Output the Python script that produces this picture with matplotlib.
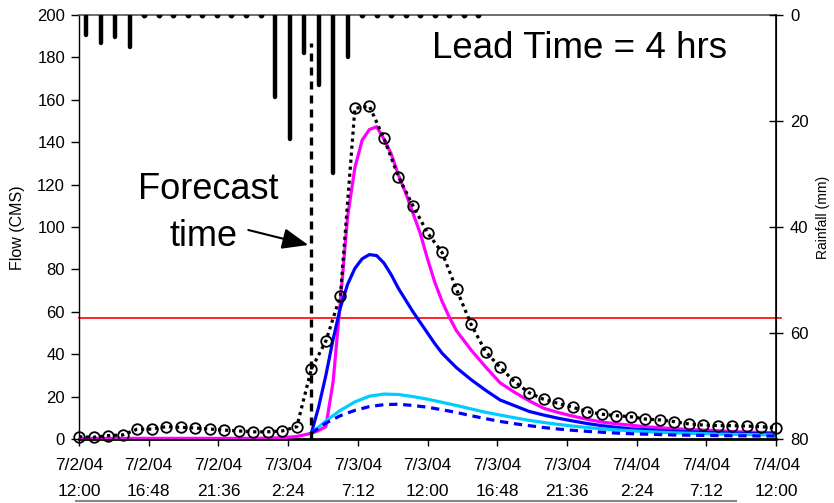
import matplotlib
matplotlib.use('Agg')
import matplotlib.pyplot as plt
from matplotlib.lines import Line2D

plt.rcParams['font.family'] = ['Liberation Sans', 'DejaVu Sans']

# ---------------- data ----------------
hours = list(range(49))  # hours after 7/2/04 12:00
observed = [1.1, 0.8, 1.6, 1.9, 4.6, 4.7, 5.8, 5.5, 5.2, 4.7, 4.2, 3.8, 3.4, 3.4, 3.8, 5.8,
            33.0, 46.2, 67.6, 156.0, 157.0, 141.8, 123.7, 110.0, 97.3, 88.0, 70.6, 54.1,
            41.2, 33.8, 27.0, 21.8, 18.7, 16.8, 15.0, 12.9, 11.7, 11.0, 10.5, 9.4, 9.0,
            8.2, 7.1, 6.6, 6.3, 6.3, 6.1, 5.8, 5.3]

# simulated (magenta): hourly to 16 h, half-hourly 16-26 h, hourly afterwards
sim_hours = (list(range(0, 16)) + [16 + 0.5 * k for k in range(21)] + list(range(27, 49)))
simulated = [0.3, 0.3, 0.3, 0.3, 0.3, 0.3, 0.3, 0.3, 0.3, 0.3, 0.3, 0.3, 0.3, 0.4, 0.6, 1.2,
             2.7, 4.0, 5.8, 27.0, 65.0, 105.0, 128.0, 141.0, 146.0, 147.3, 141.5,
             134.5, 124.5, 116.0, 106.5, 97.0, 85.0, 74.0, 65.0, 57.5, 51.0,
             42.0, 34.0, 26.5, 22.0, 18.0, 14.5, 12.5, 10.8, 9.3, 8.0, 7.2, 6.5, 5.8, 5.3,
             4.9, 4.5, 4.2, 3.9, 3.5, 3.3, 3.1, 3.0]

# forecasts issued at 16 h
fc_hours_fine = [16 + 0.5 * k for k in range(21)] + list(range(27, 49))
fc_blue = [2.7, 15.0, 30.0, 47.0, 62.0, 73.0, 80.5, 85.0, 87.0, 86.5, 83.0, 77.5, 71.0,
           65.5, 60.0, 55.0, 50.0, 45.0, 40.5, 37.0, 33.6,
           28.0, 23.0, 18.4, 15.7, 13.0, 11.3, 9.8, 8.5, 7.3, 6.3, 5.5, 4.8, 4.4, 4.0,
           3.7, 3.4, 3.2, 3.0, 2.8, 2.6, 2.5, 2.4]
fc_hours = list(range(16, 49))
fc_cyan = [2.7, 8.5, 13.5, 17.5, 20.2, 21.2, 21.0, 20.0, 18.8, 17.3, 15.8, 14.2, 12.6,
           11.3, 10.0, 8.8, 7.8, 6.9, 6.1, 5.4, 4.8, 4.3, 3.9, 3.5, 3.2, 2.9, 2.7,
           2.5, 2.3, 2.2, 2.1, 2.0, 1.9]
fc_blue_dash = [2.7, 7.5, 11.0, 13.5, 15.3, 16.2, 16.4, 15.8, 15.0, 13.8, 12.5, 11.0, 9.6,
                8.3, 7.2, 6.3, 5.4, 4.7, 4.1, 3.6, 3.2, 2.8, 2.5, 2.3, 2.1, 1.9, 1.8,
                1.7, 1.6, 1.5, 1.5, 1.4, 1.4]

rain_hours = [k + 0.5 for k in range(28)]
rain = [3.8, 5.2, 4.2, 6.0, 0, 0, 0, 0, 0, 0, 0, 0, 0,
        15.5, 23.4, 7.2, 13.2, 29.8, 7.9, 0, 0, 0, 0, 0, 0, 0, 0, 0]

tick_hours = [0, 4.8, 9.6, 14.4, 19.2, 24.0, 28.8, 33.6, 38.4, 43.2, 48.0]
tick_labels = ['7/2/04\n12:00', '7/2/04\n16:48', '7/2/04\n21:36', '7/3/04\n2:24',
               '7/3/04\n7:12', '7/3/04\n12:00', '7/3/04\n16:48', '7/3/04\n21:36',
               '7/4/04\n2:24', '7/4/04\n7:12', '7/4/04\n12:00']
flow_ticks = list(range(0, 201, 20))
rain_ticks = [0, 20, 40, 60, 80]

flood_level = 57
forecast_hour = 16
forecast_line_top = 187

# ---------------- figure ----------------
W, H = 834, 503
fig = plt.figure(figsize=(W / 100, H / 100), dpi=100)
L, R, T, B = 79, 776, 15, 439
ax = fig.add_axes([L / W, 1 - B / H, (R - L) / W, (B - T) / H])
ax2 = ax.twinx()

ax.set_xlim(0, 48)
ax.set_ylim(0, 200)

ax.plot(sim_hours, simulated, color='#FF00FF', lw=2.3, zorder=3)
ax.plot(fc_hours_fine, fc_blue, color='#0000FF', lw=2.3, zorder=3)
ax.plot(fc_hours, fc_cyan, color='#00CCFF', lw=2.3, zorder=3)
ax.plot(fc_hours, fc_blue_dash, color='#0000FF', lw=2.3, ls=(0, (2.6, 1.8)), zorder=3)
ax.plot(hours, observed, color='black', lw=2.3, ls=(0, (1, 1.2)), marker='o', ms=7.6,
        mfc='none', mec='black', mew=1.3, zorder=4, clip_on=False)

ax.axhline(flood_level, xmin=0, xmax=1.007, color='#FF0000', lw=1.2, clip_on=False, zorder=2)
ax.plot([forecast_hour, forecast_hour], [0, forecast_line_top], color='black', lw=2.4,
        ls=(0, (2.4, 1.8)), zorder=5)

ax.set_xticks(tick_hours)
ax.set_xticklabels(tick_labels, fontsize=12.5, linespacing=1.85)
ax.set_yticks(flow_ticks)
ax.tick_params(axis='x', direction='out', length=5, width=1, pad=9)
ax.tick_params(axis='y', direction='out', length=6, width=1, labelsize=12, pad=4)

ax.spines['left'].set_linewidth(1.0)
ax.spines['bottom'].set_linewidth(2.0)
ax.spines['top'].set_color('#555555')
ax.spines['top'].set_linewidth(1.2)

# rainfall (inverted secondary axis)
ax2.set_ylim(80, 0)
nz_x = [x for x, r in zip(rain_hours, rain) if r > 0]
nz_r = [r for r in rain if r > 0]
z_x = [x for x, r in zip(rain_hours, rain) if r == 0]
ax2.vlines(nz_x, 0, nz_r, colors='black', lw=3.2, capstyle='round')
ax2.plot(z_x, [0] * len(z_x), 'o', color='black', ms=3.2, clip_on=True)
ax2.set_yticks(rain_ticks)
ax2.tick_params(axis='y', direction='inout', length=10, width=1, labelsize=12, pad=5)
ax2.spines['right'].set_linewidth(1.2)
for s in ['top', 'bottom', 'left']:
    ax2.spines[s].set_visible(False)

# axis titles
fig.text(18 / W, 1 - 228 / H, 'Flow (CMS)', fontsize=11.5, rotation=90, ha='center', va='center')
fig.text(823 / W, 1 - 217 / H, 'Rainfall (mm)', fontsize=10, rotation=90, ha='center', va='center')

# annotations
fig.text(431.7 / W, 1 - 58.3 / H, 'Lead Time = 4 hrs', fontsize=26.5, ha='left', va='baseline')
fig.text(208.3 / W, 1 - 199.3 / H, 'Forecast', fontsize=26, ha='center', va='baseline')
fig.text(204 / W, 1 - 246 / H, 'time', fontsize=26, ha='center', va='baseline')
ax.annotate('', xy=(308.3, H - 245), xytext=(248.3, H - 230),
            xycoords='figure pixels', textcoords='figure pixels',
            arrowprops=dict(arrowstyle='-|>,head_length=0.8,head_width=0.32',
                            mutation_scale=20, color='black', lw=1.5,
                            shrinkA=0, shrinkB=0))

# top edge of legend box (cut off)
fig.add_artist(Line2D([76 / W, 736 / W], [1 - 501 / H] * 2, color='#888888', lw=1.5))

fig.savefig('out.png', dpi=100)
